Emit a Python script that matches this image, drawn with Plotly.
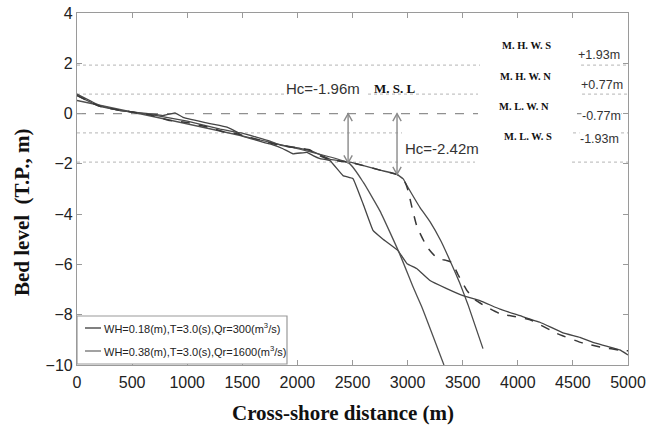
import plotly.graph_objects as go

# ---------------- data ----------------
# Profile A (solid, wiggly nearshore, kinked offshore)
a_x = [0, 209, 390, 662, 780, 889, 962, 1207, 1361, 1452, 1506, 1751, 1869, 1960, 2087, 2142, 2205,
       2296, 2414, 2505, 2595, 2686, 2777, 2913, 2995, 3085, 3203, 3350, 3503, 3657, 3838, 4020,
       4201, 4410, 4564, 4682, 4927, 5000]
a_y = [0.78, 0.32, 0.12, -0.01, -0.08, 0.03, -0.15, -0.40, -0.54, -0.74, -0.91, -1.21, -1.40, -1.60,
       -1.54, -1.67, -1.79, -1.87, -2.47, -2.59, -3.58, -4.65, -5.00, -5.45, -5.97, -6.17, -6.64,
       -6.95, -7.24, -7.44, -7.78, -8.04, -8.30, -8.72, -8.90, -9.10, -9.40, -9.60]

# Profile B (solid, straight slope then steep drop)
b_x = [0, 2470, 2600, 2750, 2930, 3050, 3130, 3330]
b_y = [0.52, -1.98, -2.75, -3.88, -5.60, -6.90, -7.70, -10.00]

# Profile C (solid, upper profile then steep drop)
c_x = [0, 200, 400, 700, 1000, 1300, 1500, 1750, 1842, 2024, 2115, 2200, 2296, 2477, 2600, 2750,
       2904, 2960, 3004, 3113, 3203, 3300, 3385, 3475, 3548, 3684]
c_y = [0.72, 0.30, 0.12, -0.06, -0.30, -0.62, -0.78, -1.10, -1.25, -1.38, -1.47, -1.62, -1.82,
       -1.93, -2.07, -2.25, -2.42, -2.60, -2.94, -3.74, -4.30, -5.05, -5.85, -6.76, -7.60, -9.35]

# Profile D (dashed)
d_x = [0, 200, 300, 662, 844, 998, 1200, 1325, 1452, 1570, 1700, 1842, 2024, 2115, 2160, 2296, 2477,
       2600, 2750, 2904, 2976, 3004, 3040, 3085, 3176, 3267, 3358, 3403, 3457, 3539, 3612, 3700,
       3838, 3956, 4111, 4356, 4592, 4746, 4955, 5000]
d_y = [0.72, 0.30, 0.20, -0.05, -0.28, -0.35, -0.55, -0.72, -0.80, -0.95, -1.10, -1.27, -1.38,
       -1.45, -1.59, -1.84, -1.94, -2.07, -2.25, -2.42, -2.74, -3.06, -3.74, -4.50, -5.30, -5.75,
       -5.85, -5.92, -6.40, -7.04, -7.40, -7.65, -7.96, -8.06, -8.20, -8.75, -9.13, -9.28, -9.43,
       -9.43]

# Tide levels
level_names = ["M. H. W. S", "M. H. W. N", "M. L. W. N", "M. L. W. S"]
level_values = [1.93, 0.77, -0.77, -1.93]
level_labels = ["+1.93m", "+0.77m", "-0.77m", "-1.93m"]
msl_value = 0.0

# Closure depths
hc_x = [2460, 2904]
hc_y = [-1.96, -2.42]
hc_labels = ["Hc=-1.96m", "Hc=-2.42m"]

legend_names = ["WH=0.18(m),T=3.0(s),Qr=300(m<sup>3</sup>/s)",
                "WH=0.38(m),T=3.0(s),Qr=1600(m<sup>3</sup>/s)"]

x_ticks = [0, 500, 1000, 1500, 2000, 2500, 3000, 3500, 4000, 4500, 5000]
y_ticks = [-10, -8, -6, -4, -2, 0, 2, 4]

# ---------------- figure ----------------
SANS = "Liberation Sans, Arial, sans-serif"
SERIF = "Liberation Serif, Times New Roman, serif"

fig = go.Figure()
fig.add_trace(go.Scatter(x=a_x, y=a_y, mode="lines", name="A",
                         line=dict(color="#454545", width=1.3, shape="spline", smoothing=0.2),
                         showlegend=False))
fig.add_trace(go.Scatter(x=b_x, y=b_y, mode="lines", name="B",
                         line=dict(color="#505050", width=1.3, shape="spline", smoothing=0.4),
                         showlegend=False))
fig.add_trace(go.Scatter(x=c_x, y=c_y, mode="lines", name="C",
                         line=dict(color="#4a4a4a", width=1.3, shape="spline", smoothing=0.3),
                         showlegend=False))
fig.add_trace(go.Scatter(x=d_x, y=d_y, mode="lines", name="D",
                         line=dict(color="#383838", width=1.5, dash="dash", shape="spline",
                                   smoothing=0.4),
                         showlegend=False))

shapes = []
# tide level dotted lines (segments broken around labels)
level_segments = {
    1.93: [(0, 3657), (4574, 5000)],
    0.77: [(0, 1915), (2641, 3639), (4583, 5000)],
    -0.77: [(0, 2949), (4501, 5000)],
    -1.93: [(0, 3612), (4492, 5000)],
}
for v in level_values:
    for x0, x1 in level_segments[v]:
        shapes.append(dict(type="line", xref="x", yref="y", x0=x0, x1=x1, y0=v, y1=v,
                           line=dict(color="#c4c4c4", width=1.2, dash="dot"), layer="below"))
for x0, x1 in [(0, 3639), (4537, 5000)]:
    shapes.append(dict(type="line", xref="x", yref="y", x0=x0, x1=x1, y0=msl_value, y1=msl_value,
                       line=dict(color="#909090", width=1.2, dash="dash"), layer="below"))

# closure depth double arrows (line + open chevron heads)
HW = 38     # half width of head, in m
HH = 0.30   # head height, in bed-level units
arrow_line = dict(color="#8a8a8a", width=1.4)
for hx, hy in zip(hc_x, hc_y):
    shapes.append(dict(type="line", xref="x", yref="y", x0=hx, x1=hx, y0=msl_value, y1=hy,
                       line=arrow_line))
    shapes.append(dict(type="path", xref="x", yref="y",
                       path=f"M {hx - HW},{msl_value - HH} L {hx},{msl_value} L {hx + HW},{msl_value - HH}",
                       line=arrow_line))
    shapes.append(dict(type="path", xref="x", yref="y",
                       path=f"M {hx - HW},{hy + HH} L {hx},{hy} L {hx + HW},{hy + HH}",
                       line=arrow_line))

# manual legend
def px2paper_x(px):
    return (px - 77) / 551.0

def py2paper_y(py):
    return (365 - py) / 352.0

shapes.append(dict(type="rect", xref="paper", yref="paper",
                   x0=px2paper_x(77), x1=px2paper_x(287), y0=py2paper_y(364), y1=py2paper_y(316),
                   line=dict(color="#999999", width=1.2), fillcolor="white"))
legend_colors = ["#4a4a4a", "#7a7a7a"]
legend_py = [328, 351]
for col, py in zip(legend_colors, legend_py):
    shapes.append(dict(type="line", xref="paper", yref="paper",
                       x0=px2paper_x(85), x1=px2paper_x(101), y0=py2paper_y(py), y1=py2paper_y(py),
                       line=dict(color=col, width=1.4)))

annotations = []
for name, py in zip(legend_names, legend_py):
    annotations.append(dict(xref="paper", yref="paper", x=px2paper_x(102), y=py2paper_y(py),
                            text=name, showarrow=False, xanchor="left", yanchor="middle",
                            font=dict(family=SANS, size=11, color="#222")))

annotations.append(dict(x=2232, y=1.0, xref="x", yref="y", text=hc_labels[0], showarrow=False,
                        xanchor="center", yanchor="middle",
                        font=dict(family=SANS, size=15, color="#333")))
annotations.append(dict(x=3312, y=-1.39, xref="x", yref="y", text=hc_labels[1], showarrow=False,
                        xanchor="center", yanchor="middle",
                        font=dict(family=SANS, size=15, color="#333")))
annotations.append(dict(x=2890, y=1.0, xref="x", yref="y", text="M. S. L", showarrow=False,
                        xanchor="center", yanchor="middle",
                        font=dict(family=SERIF, size=13, color="#111", weight="bold")))

name_pos = [(4083, 2.69), (4074, 1.47), (4060, 0.28), (4092, -0.91)]
label_pos = [(4740, 2.31), (4768, 1.15), (4760, -0.08), (4740, -1.03)]
for nm, (nx, ny) in zip(level_names, name_pos):
    annotations.append(dict(x=nx, y=ny, xref="x", yref="y", text=nm, showarrow=False,
                            xanchor="center", yanchor="middle",
                            font=dict(family=SERIF, size=10.5, color="#111", weight="bold")))
for lb, (lx, ly) in zip(level_labels, label_pos):
    annotations.append(dict(x=lx, y=ly, xref="x", yref="y", text=lb, showarrow=False,
                            xanchor="center", yanchor="middle",
                            bgcolor="white", borderpad=0,
                            font=dict(family=SANS, size=12.5, color="#333")))

# axis titles
annotations.append(dict(xref="paper", yref="paper", x=px2paper_x(22), y=py2paper_y(213),
                        xanchor="center", yanchor="middle",
                        text="Bed level  (T.P., m)", textangle=-90, showarrow=False,
                        font=dict(family=SERIF, size=21, color="#111", weight="bold")))
annotations.append(dict(xref="paper", yref="paper", x=px2paper_x(343), y=py2paper_y(413),
                        xanchor="center", yanchor="middle",
                        text="Cross-shore distance (m)", showarrow=False,
                        font=dict(family=SERIF, size=21, color="#111", weight="bold")))

fig.update_layout(
    width=665, height=429,
    margin=dict(l=77, r=37, t=13, b=64, autoexpand=False),
    paper_bgcolor="white", plot_bgcolor="white",
    shapes=shapes, annotations=annotations,
    showlegend=False,
)
axis_common = dict(showgrid=False, zeroline=False, showline=True, linecolor="#9a9a9a",
                   linewidth=1.2, mirror="ticks", ticks="inside", ticklen=5,
                   tickcolor="#9a9a9a", tickwidth=1, automargin=False,
                   tickfont=dict(family=SANS, size=16, color="#222"))
fig.update_xaxes(range=[0, 5000], tickvals=x_ticks, ticktext=[str(t) for t in x_ticks],
                 ticklabelstandoff=3, **axis_common)
fig.update_yaxes(range=[-10, 4], tickvals=y_ticks, **axis_common)

fig.write_html("out.html")
